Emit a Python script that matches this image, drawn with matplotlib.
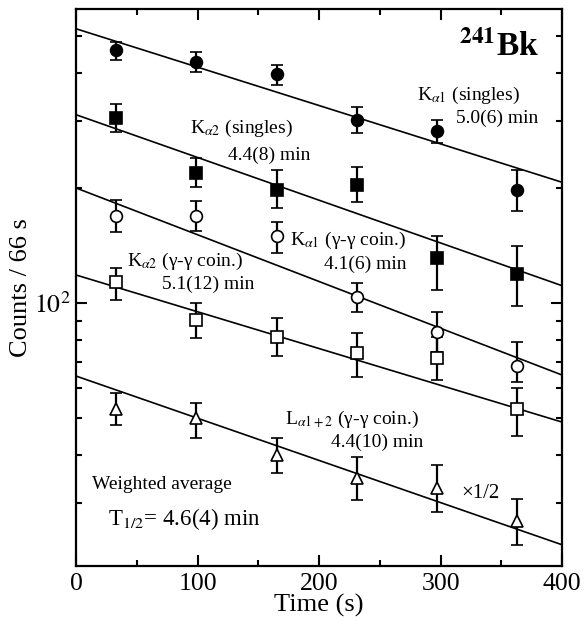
import numpy as np
import matplotlib
matplotlib.use("Agg")
import matplotlib.pyplot as plt
from matplotlib.ticker import FixedLocator, FixedFormatter, NullFormatter, LogLocator, MultipleLocator

plt.rcParams['font.family'] = ['Liberation Serif', 'DejaVu Serif']
plt.rcParams['mathtext.fontset'] = 'stix'

# time bins (s), centre of each 66 s interval
t = [33, 99, 165, 231, 297, 363]

# K alpha1 singles (filled circles)
ka1_s = [459, 427, 398, 301, 282, 198]
ka1_s_lo = [433, 402, 372, 279, 262, 174]
ka1_s_hi = [482, 454, 420, 326, 301, 223]

# K alpha2 singles (filled squares)
ka2_s = [305, 219, 198, 204, 131, 119]
ka2_s_lo = [280, 201, 177, 184, 108, 98]
ka2_s_hi = [332, 240, 223, 227, 150, 141]

# K alpha1 gamma-gamma coin (open circles)
ka1_c = [169, 169, 150, 104, 84, 68.4]
ka1_c_lo = [153, 154, 135, 94.7, 74.4, 62]
ka1_c_hi = [186, 185, 163, 113, 94.7, 79]

# K alpha2 gamma-gamma coin (open squares)
ka2_c = [113.5, 90.3, 81.5, 74, 71.8, 52.8]
ka2_c_lo = [102, 81, 72.7, 64, 62.9, 44.9]
ka2_c_hi = [123.5, 100, 91.3, 83.5, 81.5, 59.9]

# L alpha1+2 gamma-gamma coin, x1/2 (open triangles)
la_c = [52.8, 50, 40, 34.8, 32.8, 26.9]
la_c_lo = [47.9, 44.3, 35.9, 30.5, 28.4, 23.3]
la_c_hi = [58.1, 54.7, 44.3, 39.5, 37.7, 30.7]

# fitted decay lines: value at t=0 and t=400 s
fit_t = [0, 400]
fit_ka1_s = [522, 207]
fit_ka2_s = [311, 111]
fit_ka1_c = [200, 64.8]
fit_ka2_c = [118.4, 48.8]
fit_la_c = [64.4, 23.3]

fig = plt.figure(figsize=(5.85, 6.26), dpi=100)
ax = fig.add_axes([0.130, 0.0958, 0.8308, 0.8898])

series = [
    (ka1_s, ka1_s_lo, ka1_s_hi, 'o', 'black', fit_ka1_s),
    (ka2_s, ka2_s_lo, ka2_s_hi, 's', 'black', fit_ka2_s),
    (ka1_c, ka1_c_lo, ka1_c_hi, 'o', 'white', fit_ka1_c),
    (ka2_c, ka2_c_lo, ka2_c_hi, 's', 'white', fit_ka2_c),
    (la_c, la_c_lo, la_c_hi, '^', 'white', fit_la_c),
]

for vals, lo, hi, mk, fc, fit in series:
    vals = np.array(vals)
    yerr = [vals - np.array(lo), np.array(hi) - vals]
    ax.errorbar(t, vals, yerr=yerr, fmt=mk, color='black', mfc=fc, mec='black',
                ms=8.5, mew=1.2, elinewidth=1.6, capsize=4, capthick=1.6, zorder=3)
    ax.plot(fit_t, fit, color='black', lw=1.2, zorder=2)

ax.set_yscale('log')
ax.set_xlim(0, 400)
ax.set_ylim(20.5, 588)

ax.xaxis.set_major_locator(MultipleLocator(100))
ax.xaxis.set_minor_locator(MultipleLocator(50))
ax.yaxis.set_major_locator(FixedLocator([100]))
ax.yaxis.set_major_formatter(FixedFormatter([r'$10^2$']))
ax.yaxis.set_minor_locator(LogLocator(base=10, subs=np.arange(2, 10)))
ax.yaxis.set_minor_formatter(NullFormatter())

ax.tick_params(which='both', direction='in', top=True, right=True, labelsize=18.5, width=1.5)
ax.tick_params(which='major', length=8)
ax.tick_params(which='minor', length=4.5)
ax.tick_params(axis='x', pad=5)
for sp in ax.spines.values():
    sp.set_linewidth(1.6)

ax.set_xlabel('Time (s)', fontsize=19, labelpad=-1)
ax.set_ylabel('Counts / 66 s', fontsize=19, labelpad=2)

fs = 14
ax.text(381, 468, r'$^{\mathbf{241}}$Bk', fontsize=24, fontweight='bold', ha='right', va='center')
ax.text(281, 350, r'K$_{\alpha1}$ (singles)', fontsize=fs, va='center')
ax.text(313, 305, '5.0(6) min', fontsize=fs, va='center')
ax.text(94, 286, r'K$_{\alpha2}$ (singles)', fontsize=fs, va='center')
ax.text(125, 244, '4.4(8) min', fontsize=fs, va='center')
ax.text(176, 146, r'K$_{\alpha1}$ (γ-γ coin.)', fontsize=fs, va='center')
ax.text(204, 126, '4.1(6) min', fontsize=fs, va='center')
ax.text(42, 128.8, r'K$_{\alpha2}$ (γ-γ coin.)', fontsize=fs, va='center')
ax.text(71, 112, '5.1(12) min', fontsize=fs, va='center')
ax.text(172, 49.7, r'L$_{\alpha1+2}$ (γ-γ coin.)', fontsize=fs, va='center')
ax.text(209.5, 43.3, '4.4(10) min', fontsize=fs, va='center')
ax.text(13, 33.6, 'Weighted average', fontsize=14, va='center')
ax.text(26, 27.2, r'T$_{1/2}$= 4.6(4) min', fontsize=16.5, va='center')
ax.text(317, 31.8, '×1/2', fontsize=15, va='center')

fig.savefig('out.png', dpi=100)
